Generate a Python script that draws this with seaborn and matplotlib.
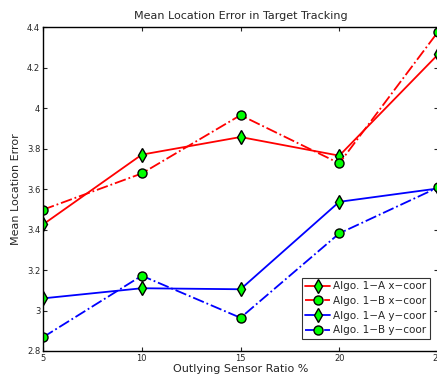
import matplotlib
matplotlib.use("Agg")
import matplotlib.pyplot as plt
import seaborn as sns
import pandas as pd
from matplotlib.ticker import FormatStrFormatter

sns.set_style("ticks")
plt.rcParams['font.family'] = ['DejaVu Sans']

ratios = [5, 10, 15, 20, 25]
algo_a_x = [3.425, 3.77, 3.857, 3.765, 4.265]
algo_b_x = [3.498, 3.677, 3.965, 3.727, 4.377]
algo_a_y = [3.060, 3.110, 3.105, 3.537, 3.603]
algo_b_y = [2.868, 3.172, 2.964, 3.381, 3.608]
labels = ["Algo. 1\u2212A x\u2212coor", "Algo. 1\u2212B x\u2212coor",
          "Algo. 1\u2212A y\u2212coor", "Algo. 1\u2212B y\u2212coor"]

series = [algo_a_x, algo_b_x, algo_a_y, algo_b_y]
colors = ["#ff0000", "#ff0000", "#0000ff", "#0000ff"]
styles = ["-", "-.", "-", "-."]
markers = ["d", "o", "d", "o"]
msizes = [7.5, 6.5, 7.5, 6.5]

df = pd.DataFrame({
    "ratio": ratios * 4,
    "error": sum(series, []),
    "series": [lab for lab in labels for _ in ratios],
})

fig = plt.figure(figsize=(4.37, 3.74), dpi=100)
ax = fig.add_axes([0.0984, 0.0615, 0.904, 0.866])

for lab, c, ls, mk, ms in zip(labels, colors, styles, markers, msizes):
    sub = df[df["series"] == lab]
    sns.lineplot(data=sub, x="ratio", y="error", ax=ax, color=c,
                 linestyle=ls, marker=mk, markersize=ms,
                 markerfacecolor="#00ff00", markeredgecolor="black",
                 markeredgewidth=1.0, linewidth=1.3, label=lab)

ax.set_xlim(5, 25)
ax.set_ylim(2.8, 4.4)
ax.set_xticks(ratios)
ax.set_yticks([2.8, 3.0, 3.2, 3.4, 3.6, 3.8, 4.0, 4.2, 4.4])
ax.yaxis.set_major_formatter(FormatStrFormatter('%g'))
ax.tick_params(direction="in", top=True, right=True, labelsize=6,
               length=3, width=0.8, pad=2)
for sp in ax.spines.values():
    sp.set_visible(True)
    sp.set_linewidth(1.0)
    sp.set_color("black")

ax.set_title("Mean Location Error in Target Tracking", fontsize=8, pad=6)
ax.set_xlabel("Outlying Sensor Ratio %", fontsize=8, labelpad=1)
ax.set_ylabel("Mean Location Error", fontsize=8, labelpad=4)

leg = ax.legend(loc="lower right", bbox_to_anchor=(0.98, 0.037), fontsize=7.5,
                frameon=True, fancybox=False, borderpad=0.35, labelspacing=0.45,
                handlelength=2.4, handletextpad=0.3, borderaxespad=0)
leg.get_frame().set_edgecolor("black")
leg.get_frame().set_linewidth(0.8)

fig.savefig("out.png", dpi=100)
